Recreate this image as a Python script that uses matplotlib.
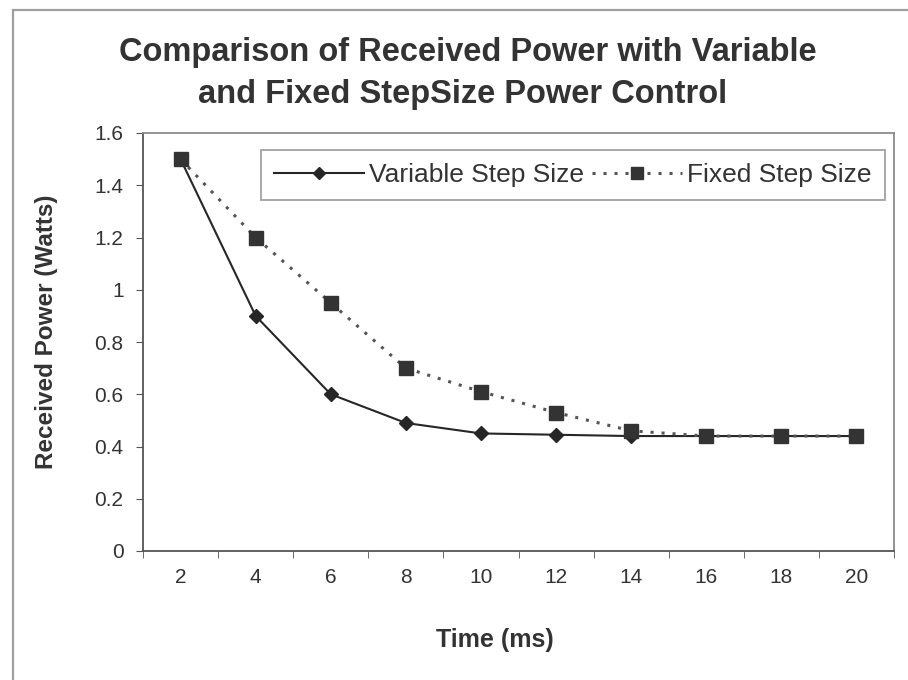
import matplotlib.pyplot as plt
from matplotlib.patches import Rectangle

plt.rcParams['font.family'] = ['Liberation Sans', 'DejaVu Sans']

time_ms = ['2', '4', '6', '8', '10', '12', '14', '16', '18', '20']
variable_step = [1.5, 0.9, 0.6, 0.49, 0.45, 0.445, 0.44, 0.44, 0.44, 0.44]
fixed_step = [1.5, 1.2, 0.95, 0.70, 0.61, 0.53, 0.46, 0.44, 0.44, 0.44]
y_ticks = [0, 0.2, 0.4, 0.6, 0.8, 1.0, 1.2, 1.4, 1.6]
y_labels = ['0', '0.2', '0.4', '0.6', '0.8', '1', '1.2', '1.4', '1.6']

W, H = 908, 680
fig = plt.figure(figsize=(W / 100, H / 100), dpi=100)
fig.patch.set_facecolor('white')

# outer chart frame (runs off the right and bottom edges)
fig.add_artist(Rectangle((13 / W, -0.1), 1.2, 1 - 10 / H + 0.1,
                         transform=fig.transFigure, fill=False,
                         edgecolor='#a0a0a0', linewidth=1.6))

ax = fig.add_axes([143 / W, 1 - 551 / H, (894 - 143) / W, (551 - 133) / H])

x = list(range(len(time_ms)))
ax.plot(x, variable_step, color='#262626', linewidth=1.5, marker='D',
        markersize=7.5, markerfacecolor='#262626', markeredgecolor='#262626',
        label='Variable Step Size', zorder=3)
ax.plot(x, fixed_step, color='#555555', linewidth=2.2, linestyle=(0, (1, 2.6)),
        marker='s', markersize=10.5, markerfacecolor='#333333',
        markeredgecolor='#333333', label='Fixed Step Size', zorder=4)

ax.set_xlim(-0.5, len(time_ms) - 0.5)
ax.set_ylim(0, 1.6)
ax.set_yticks(y_ticks)
ax.set_yticklabels(y_labels)
ax.set_xticks(x)
ax.set_xticklabels(time_ms)
# category boundaries carry the tick marks
ax.set_xticks([i + 0.5 for i in range(-1, len(time_ms))], minor=True)
ax.tick_params(axis='x', which='major', length=0, pad=12, labelsize=15,
               labelcolor='#333333')
ax.tick_params(axis='x', which='minor', length=5, direction='out',
               color='#555555')
ax.tick_params(axis='y', length=5, direction='out', pad=9, labelsize=15,
               color='#555555', labelcolor='#333333')

for side in ['top', 'right']:
    ax.spines[side].set_color('#8a8a8a')
    ax.spines[side].set_linewidth(1.3)
for side in ['left', 'bottom']:
    ax.spines[side].set_color('#555555')
    ax.spines[side].set_linewidth(1.3)

fig.text(495 / W, 1 - 640 / H, 'Time (ms)', ha='center', va='center',
         fontsize=18, fontweight='bold', color='#333333')
fig.text(47 / W, 1 - 332 / H, 'Received Power (Watts)', ha='center',
         va='center', rotation=90, fontsize=17.5, fontweight='bold',
         color='#333333')

fig.text(468 / W, 1 - 52 / H, 'Comparison of Received Power with Variable',
         ha='center', va='center', fontsize=23.5, fontweight='bold',
         color='#333333')
fig.text(463 / W, 1 - 95 / H, 'and Fixed StepSize Power Control',
         ha='center', va='center', fontsize=23.5, fontweight='bold',
         color='#333333')

leg = ax.legend(loc='upper right', bbox_to_anchor=(885 / W, 1 - 150 / H),
                bbox_transform=fig.transFigure, ncol=2, fontsize=19,
                frameon=True, fancybox=False, handlelength=3.4,
                columnspacing=0.3, handletextpad=0.2, borderpad=0.5,
                borderaxespad=0, markerscale=0.85)
leg.get_frame().set_edgecolor('#8a8a8a')
leg.get_frame().set_linewidth(1.3)
for t in leg.get_texts():
    t.set_color('#333333')

fig.savefig('out.png', dpi=100)
